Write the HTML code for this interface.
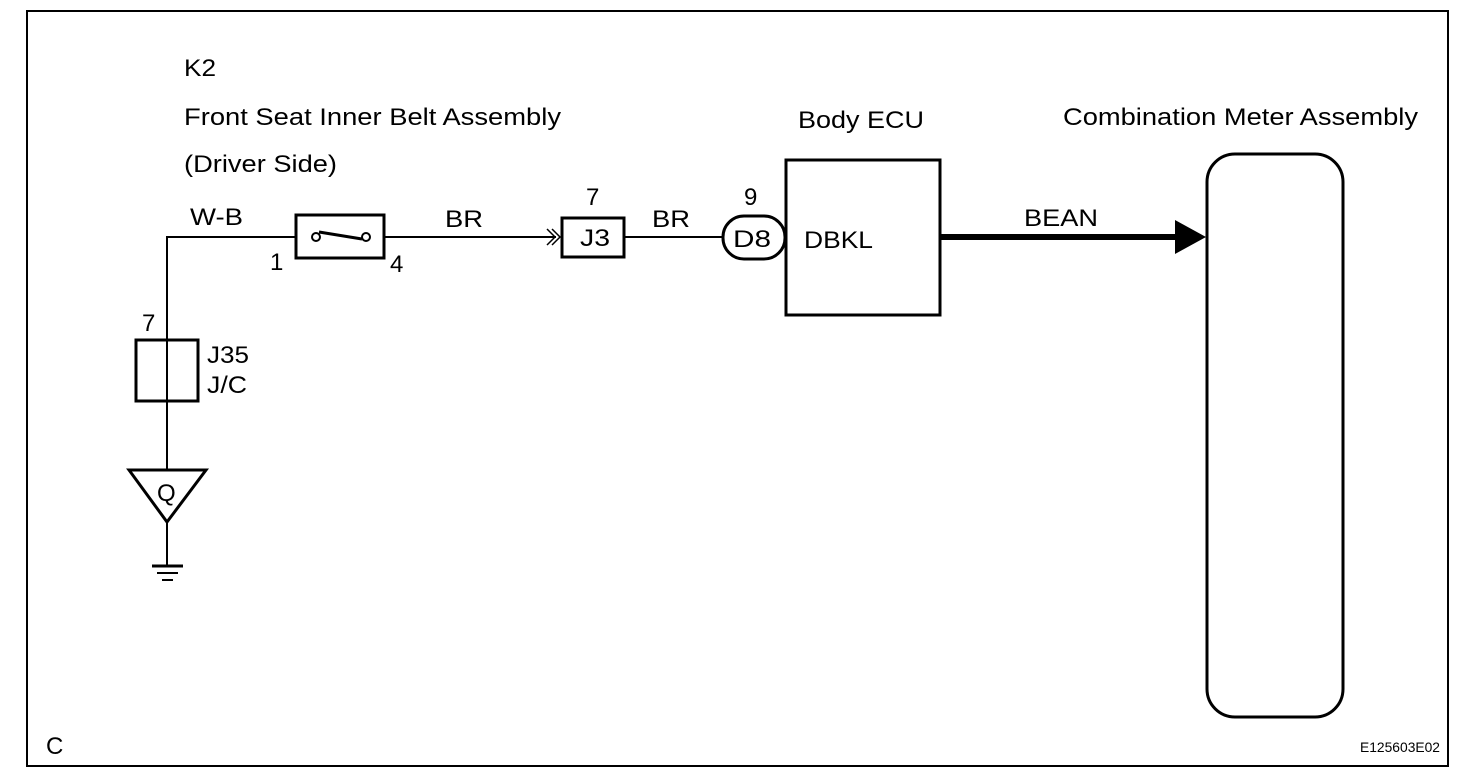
<!DOCTYPE html>
<html><head><style>html,body{margin:0;padding:0;background:#fff;}svg{display:block}</style></head>
<body>
<svg width="1472" height="780" viewBox="0 0 1472 780" xmlns="http://www.w3.org/2000/svg" font-family="Liberation Sans, Arial, sans-serif" font-size="24" fill="#000">
<rect x="27" y="11" width="1421" height="755" fill="none" stroke="#000" stroke-width="2"/>
<g lengthAdjust="spacingAndGlyphs">
<text x="184" y="76" textLength="32" lengthAdjust="spacingAndGlyphs">K2</text>
<text x="184" y="125" textLength="377" lengthAdjust="spacingAndGlyphs">Front Seat Inner Belt Assembly</text>
<text x="184" y="172" textLength="153" lengthAdjust="spacingAndGlyphs">(Driver Side)</text>
<text x="798" y="128" textLength="126" lengthAdjust="spacingAndGlyphs">Body ECU</text>
<text x="1063" y="125" textLength="355" lengthAdjust="spacingAndGlyphs">Combination Meter Assembly</text>
<text x="190" y="225" textLength="53" lengthAdjust="spacingAndGlyphs">W-B</text>
<text x="445" y="227" textLength="38" lengthAdjust="spacingAndGlyphs">BR</text>
<text x="652" y="227" textLength="38" lengthAdjust="spacingAndGlyphs">BR</text>
<text x="586" y="205">7</text>
<text x="744" y="205">9</text>
<text x="270" y="270">1</text>
<text x="390" y="272">4</text>
<text x="1024" y="226" textLength="74" lengthAdjust="spacingAndGlyphs">BEAN</text>
<text x="804" y="248" textLength="69" lengthAdjust="spacingAndGlyphs">DBKL</text>
<text x="142" y="331">7</text>
<text x="207" y="363" textLength="42" lengthAdjust="spacingAndGlyphs">J35</text>
<text x="207" y="393" textLength="40" lengthAdjust="spacingAndGlyphs">J/C</text>
<text x="46" y="754">C</text>
<text x="1360" y="752" font-size="14" textLength="80" lengthAdjust="spacingAndGlyphs">E125603E02</text>
</g>
<g fill="none" stroke="#000">
<polyline points="167,468 167,237 295,237" stroke-width="2"/>
<line x1="385" y1="237" x2="556" y2="237" stroke-width="2"/>
<rect x="296" y="215" width="88" height="43" stroke-width="3"/>
<circle cx="316" cy="237" r="4" stroke-width="2"/>
<circle cx="366" cy="237" r="4" stroke-width="2"/>
<line x1="319" y1="232" x2="362" y2="239" stroke-width="3"/>
<polyline points="547,229 555,237 547,245" stroke-width="1.5"/>
<polyline points="552,229 560,237 552,245" stroke-width="1.5"/>
<rect x="562" y="218" width="62" height="39" stroke-width="3"/>
<line x1="624" y1="237" x2="722" y2="237" stroke-width="2"/>
<rect x="723" y="216" width="62" height="43" rx="21" stroke-width="3"/>
<rect x="786" y="160" width="154" height="155" stroke-width="3"/>
<line x1="940" y1="237" x2="1178" y2="237" stroke-width="6"/>
<rect x="1207" y="154" width="136" height="563" rx="28" stroke-width="3"/>
<rect x="136" y="340" width="62" height="61" stroke-width="3"/>
<line x1="167" y1="401" x2="167" y2="470" stroke-width="2"/>
<line x1="167" y1="522" x2="167" y2="566" stroke-width="2"/>
<polygon points="129,470 206,470 167,522" stroke-width="3"/>
<line x1="152" y1="566" x2="183" y2="566" stroke-width="3"/>
<line x1="157" y1="573" x2="178" y2="573" stroke-width="2"/>
<line x1="162" y1="580" x2="173" y2="580" stroke-width="2"/>
</g>
<text x="580" y="246" textLength="30" lengthAdjust="spacingAndGlyphs">J3</text>
<text x="733" y="247" textLength="38" lengthAdjust="spacingAndGlyphs">D8</text>
<text x="157" y="501">Q</text>
<polygon points="1175,220 1206,237 1175,254" fill="#000"/>
</svg>
</body></html>
